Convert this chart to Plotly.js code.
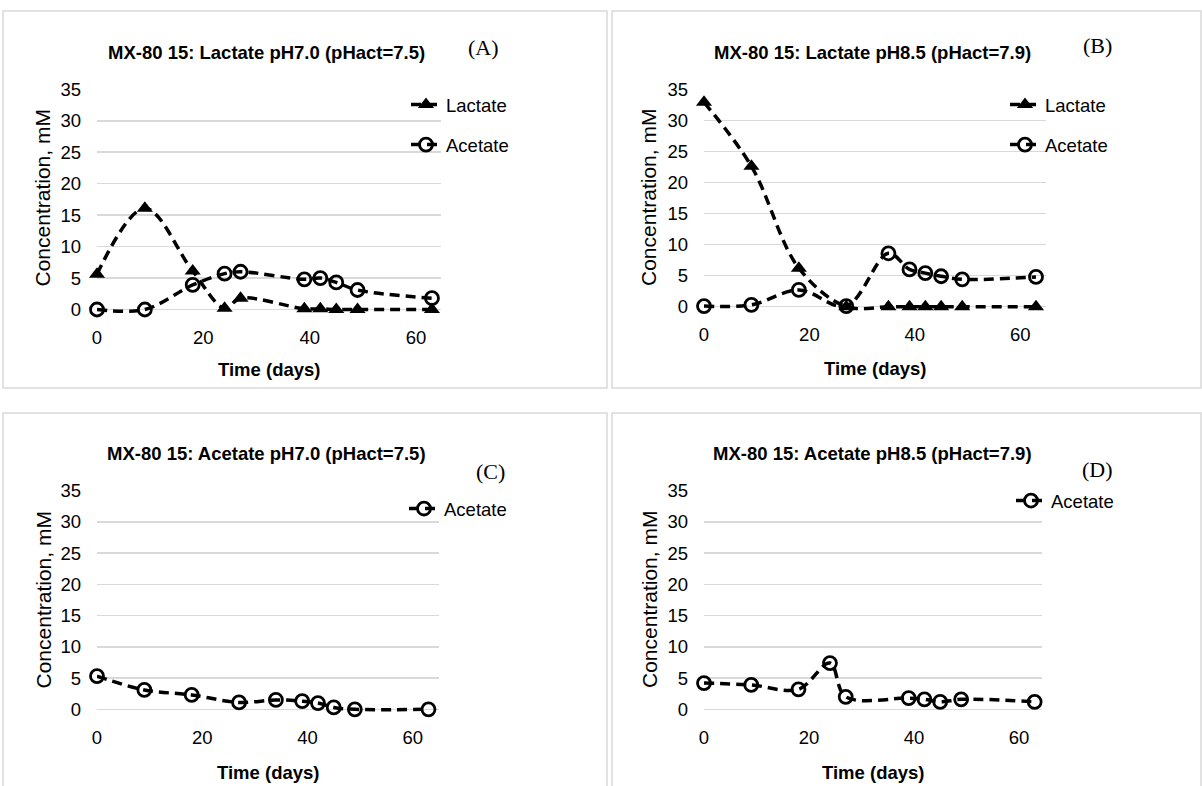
<!DOCTYPE html>
<html>
<head>
<meta charset="utf-8">
<script src="https://cdn.plot.ly/plotly-3.0.1.min.js"></script>
<style>html,body{margin:0;padding:0;background:#fff;}#chart{width:1202px;height:786px;}</style>
</head>
<body>
<div id="chart"></div>
<script>
// ---- data ----
const daysA = [0, 9, 18, 24, 27, 39, 42, 45, 49, 63];
const lactateA = [5.6, 16.1, 6.1, 0.2, 1.8, 0.1, 0.1, 0, 0, 0];
const acetateA = [0, 0, 3.9, 5.7, 6.0, 4.8, 5.0, 4.3, 3.1, 1.8];

const daysB = [0, 9, 18, 27, 35, 39, 42, 45, 49, 63];
const lactateB = [32.9, 22.6, 6.2, 0, 0, 0, 0, 0, 0, 0];
const acetateB = [0.1, 0.3, 2.7, 0.1, 8.6, 6.0, 5.4, 4.9, 4.4, 4.8];

const daysC = [0, 9, 18, 27, 34, 39, 42, 45, 49, 63];
const acetateC = [5.3, 3.1, 2.3, 1.1, 1.5, 1.3, 1.0, 0.3, 0, 0];

const daysD = [0, 9, 18, 24, 27, 39, 42, 45, 49, 63];
const acetateD = [4.2, 3.9, 3.2, 7.4, 2.0, 1.8, 1.6, 1.2, 1.6, 1.2];

const titles = [
  'MX-80 15: Lactate pH7.0 (pHact=7.5)',
  'MX-80 15: Lactate pH8.5 (pHact=7.9)',
  'MX-80 15: Acetate pH7.0 (pHact=7.5)',
  'MX-80 15: Acetate pH8.5 (pHact=7.9)'
];
const panelLabels = ['(A)', '(B)', '(C)', '(D)'];
const xTitle = 'Time (days)';
const yTitle = 'Concentration, mM';
const xTicks = [0, 20, 40, 60];

// ---- helpers ----
const W = 1202, H = 786;
const px = v => v / W;
const py = v => 1 - v / H;
const SANS = 'Liberation Sans, Arial, sans-serif';
const SERIF = 'Liberation Serif, Times New Roman, serif';
const DASH = '10px,6px';
const FS = 18.5;
const PAD = 4; // extra px below zero so lines on y=0 are not half-clipped

function lac(x, y, xa, ya, leg) {
  return {x: x, y: y, xaxis: xa, yaxis: ya, name: 'Lactate', legend: leg, legendgroup: leg + 'l',
    type: 'scatter', mode: 'lines+markers', cliponaxis: false,
    line: {color: '#000', width: 3.5, dash: DASH, shape: 'spline', smoothing: 1},
    marker: {symbol: 'triangle-up', size: 14, color: '#000'}};
}
function ace(x, y, xa, ya, leg) {
  return {x: x, y: y, xaxis: xa, yaxis: ya, name: 'Acetate', legend: leg, legendgroup: leg + 'a',
    type: 'scatter', mode: 'lines+markers', cliponaxis: false,
    line: {color: '#000', width: 3.5, dash: DASH, shape: 'spline', smoothing: 1},
    marker: {symbol: 'circle-open', size: 13, color: '#000', line: {width: 2.8, color: '#000'}}};
}

const traces = [
  lac(daysA, lactateA, 'x', 'y', 'legend'),
  ace(daysA, acetateA, 'x', 'y', 'legend'),
  lac(daysB, lactateB, 'x2', 'y2', 'legend2'),
  ace(daysB, acetateB, 'x2', 'y2', 'legend2'),
  ace(daysC, acetateC, 'x3', 'y3', 'legend3'),
  ace(daysD, acetateD, 'x4', 'y4', 'legend4')
];

function xa(domain, max, anchor) {
  return {domain: domain, range: [0, max], tickvals: xTicks, showgrid: false, zeroline: false,
    showline: false, ticks: '', tickfont: {family: SANS, size: FS, color: '#000'},
    ticklabelstandoff: 15 - PAD, anchor: anchor, fixedrange: true};
}
function ya(domain, ymin, anchor) {
  return {domain: domain, range: [ymin, 35], tickvals: [0, 5, 10, 15, 20, 25, 30, 35], showgrid: true, gridcolor: '#d9d9d9', gridwidth: 1.5,
    zeroline: true, zerolinecolor: '#d9d9d9', zerolinewidth: 1.5, showline: false, ticks: '',
    tickfont: {family: SANS, size: FS, color: '#000'}, ticklabelstandoff: 15, anchor: anchor, fixedrange: true};
}

// panel geometry (pixels)
const plots = [
  {x0: 97, x1: 441, yTop: 89.3, yBot: 309.5, max: 64.7},
  {x0: 704, x1: 1046, yTop: 89.3, yBot: 306.7, max: 64.9},
  {x0: 97, x1: 439, yTop: 490.7, yBot: 709.3, max: 65.0},
  {x0: 704, x1: 1042, yTop: 490.7, yBot: 709.3, max: 64.4}
];

const layout = {
  width: W, height: H, autosize: false,
  margin: {l: 0, r: 0, t: 0, b: 0},
  paper_bgcolor: '#fff', plot_bgcolor: 'rgba(0,0,0,0)',
  showlegend: true,
  font: {family: SANS, color: '#000'},
  shapes: [
    {type: 'rect', xref: 'paper', yref: 'paper', x0: px(3), x1: px(607), y0: py(388), y1: py(11), line: {color: '#d9d9d9', width: 1.5}},
    {type: 'rect', xref: 'paper', yref: 'paper', x0: px(612), x1: px(1201), y0: py(388), y1: py(11), line: {color: '#d9d9d9', width: 1.5}},
    {type: 'rect', xref: 'paper', yref: 'paper', x0: px(3), x1: px(607), y0: py(800), y1: py(413), line: {color: '#d9d9d9', width: 1.5}},
    {type: 'rect', xref: 'paper', yref: 'paper', x0: px(612), x1: px(1201), y0: py(800), y1: py(413), line: {color: '#d9d9d9', width: 1.5}}
  ],
  annotations: []
};

const axNames = [['xaxis', 'yaxis', 'x', 'y'], ['xaxis2', 'yaxis2', 'x2', 'y2'], ['xaxis3', 'yaxis3', 'x3', 'y3'], ['xaxis4', 'yaxis4', 'x4', 'y4']];
plots.forEach((p, i) => {
  const n = axNames[i];
  const ppu = (p.yBot - p.yTop) / 35;
  const ymin = -PAD / ppu;
  layout[n[0]] = xa([px(p.x0), px(p.x1)], p.max, n[3]);
  layout[n[1]] = ya([py(p.yBot + PAD), py(p.yTop)], ymin, n[2]);
});

const titlePos = [[266, 52], [872, 52], [266, 453], [872, 453]];
const xTitlePos = [[269, 370], [875, 368], [268, 772], [873, 772]];
const yTitlePos = [[42.5, 198], [649, 198], [42.5, 600], [649, 600]];
const labelPos = [[484, 47], [1097, 45], [490, 471], [1097, 470]];
for (let i = 0; i < 4; i++) {
  layout.annotations.push({text: '<b>' + titles[i] + '</b>', xref: 'paper', yref: 'paper', x: px(titlePos[i][0]), y: py(titlePos[i][1]),
    xanchor: 'center', yanchor: 'middle', showarrow: false, font: {family: SANS, size: FS, color: '#000'}});
  layout.annotations.push({text: '<b>' + xTitle + '</b>', xref: 'paper', yref: 'paper', x: px(xTitlePos[i][0]), y: py(xTitlePos[i][1]),
    xanchor: 'center', yanchor: 'middle', showarrow: false, font: {family: SANS, size: FS, color: '#000'}});
  layout.annotations.push({text: yTitle, xref: 'paper', yref: 'paper', x: px(yTitlePos[i][0]), y: py(yTitlePos[i][1]),
    xanchor: 'center', yanchor: 'middle', showarrow: false, textangle: -90, font: {family: SANS, size: 21, color: '#000'}});
  layout.annotations.push({text: panelLabels[i], xref: 'paper', yref: 'paper', x: px(labelPos[i][0]), y: py(labelPos[i][1]),
    xanchor: 'center', yanchor: 'middle', showarrow: false, font: {family: SERIF, size: 22, color: '#000'}});
}

function legendAt(textX, firstY) {
  return {x: px(textX - 42), y: py(firstY - 14), xanchor: 'left', yanchor: 'top', bgcolor: 'rgba(0,0,0,0)',
    borderwidth: 0, font: {family: SANS, size: FS, color: '#000'}, tracegroupgap: 13, traceorder: 'grouped'};
}
layout.legend = legendAt(448, 100);
layout.legend2 = legendAt(1047, 100);
layout.legend3 = legendAt(446, 504);
layout.legend4 = legendAt(1053, 496);

Plotly.newPlot('chart', traces, layout, {staticPlot: true, displayModeBar: false});
</script>
</body>
</html>
